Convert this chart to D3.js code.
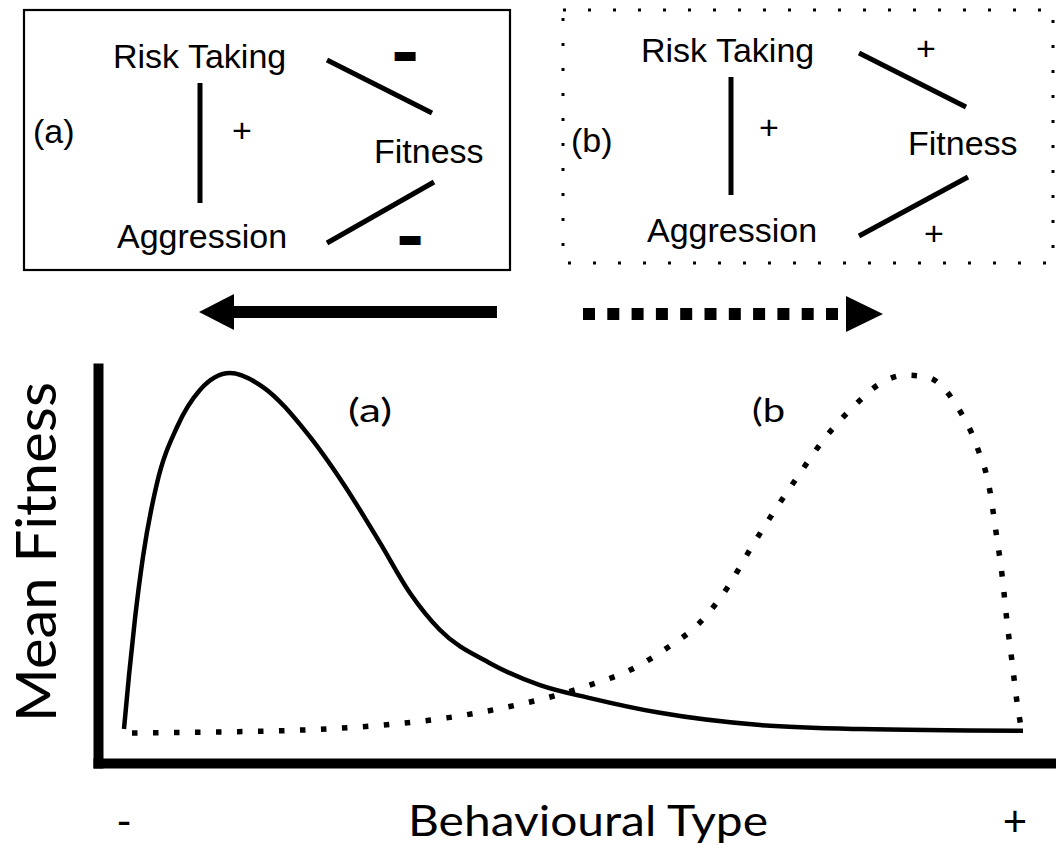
<!DOCTYPE html>
<html>
<head>
<meta charset="utf-8">
<script src="https://cdn.jsdelivr.net/npm/d3@7"></script>
<style>
  html, body { margin: 0; padding: 0; background: #fff; }
  svg { display: block; }
</style>
</head>
<body>
<svg id="chart" width="1056" height="845"></svg>
<script>
// ---------- data ----------
// Behavioural type (0 = "-", 100 = "+") and mean fitness (0..100)
const curveAx = [0, 0.56, 1.22, 2.11, 3.67, 5.90, 8.45, 11.79, 15.46, 20.36, 24.36, 28.48, 31.81, 35.15, 40.71, 46.27, 51.84, 59.62, 70.75, 81.87, 100];
const curveAy = [1.1, 16.1, 31.7, 48.9, 69.4, 85.0, 95.3, 100, 96.1, 83.3, 69.4, 52.8, 38.9, 28.6, 19.4, 13.3, 9.7, 5.6, 2.2, 1.1, 0.6];
const curveBx = [0.89, 11.0, 19.6, 28.8, 35.9, 42.6, 47.4, 51.8, 56.3, 60.4, 64.1, 67.1, 69.6, 72.2, 74.9, 77.8, 81.0, 84.4, 86.9, 89.3, 92.7, 94.9, 96.3, 97.0, 97.7, 98.2, 98.8, 99.3, 99.8];
const curveBy = [0, 0.3, 0.8, 2.2, 4.2, 7.2, 10.0, 13.3, 17.5, 23.6, 30.8, 40.3, 50.8, 61.1, 71.1, 81.4, 90.3, 97.5, 99.4, 98.9, 90.6, 79.4, 67.5, 55.8, 43.3, 31.4, 19.4, 9.2, 1.4];

const curveLabels = ["(a)", "(b"];
const axisTitles = ["Behavioural Type", "Mean Fitness"];
const axisEnds = ["-", "+"];

const nodeNames = ["Risk Taking", "Aggression", "Fitness"];
const panelLabels = ["(a)", "(b)"];
// signs: [RiskTaking–Aggression, RiskTaking–Fitness, Aggression–Fitness]
const signsA = ["+", "–", "–"];
const signsB = ["+", "+", "+"];

// ---------- setup ----------
const svg = d3.select("#chart");
const x = d3.scaleLinear().domain([0, 100]).range([124, 1023]);
const y = d3.scaleLinear().domain([0, 100]).range([733, 373]);

const arial = "'Liberation Sans', Arial, sans-serif";
const calib = "Lato, 'Open Sans', sans-serif";

// ---------- axes ----------
const axisX = d3.scaleLinear().domain([0, 100]).range([93, 1056]);
const axisY = d3.scaleLinear().domain([0, 100]).range([768, 363]);
svg.append("g")
  .attr("transform", "translate(0,763)")
  .call(d3.axisBottom(axisX).tickValues([]).tickSizeOuter(0))
  .call(g => g.select(".domain").attr("stroke", "#000").attr("stroke-width", 10));
svg.append("g")
  .attr("transform", "translate(98,0)")
  .call(d3.axisLeft(axisY).tickValues([]).tickSizeOuter(0))
  .call(g => g.select(".domain").attr("stroke", "#000").attr("stroke-width", 10));

// ---------- curves ----------
const line = d3.line()
  .x(d => x(d[0]))
  .y(d => y(d[1]))
  .curve(d3.curveMonotoneX);

svg.append("path")
  .datum(curveAx.map((v, i) => [v, curveAy[i]]))
  .attr("d", line)
  .attr("fill", "none")
  .attr("stroke", "#000")
  .attr("stroke-width", 4.5);

svg.append("path")
  .datum(curveBx.map((v, i) => [v, curveBy[i]]))
  .attr("d", line)
  .attr("fill", "none")
  .attr("stroke", "#000")
  .attr("stroke-width", 5.5)
  .attr("stroke-dasharray", "5.5 15.5");

// curve labels
svg.append("text").attr("x", 348).attr("y", 422)
  .attr("font-family", calib).attr("font-size", 33)
  .attr("textLength", 44).attr("lengthAdjust", "spacingAndGlyphs").text(curveLabels[0]);
svg.append("text").attr("x", 752).attr("y", 422)
  .attr("font-family", calib).attr("font-size", 33)
  .attr("textLength", 33).attr("lengthAdjust", "spacingAndGlyphs").text(curveLabels[1]);

// axis titles
svg.append("text")
  .attr("x", 588).attr("y", 836)
  .attr("text-anchor", "middle")
  .attr("font-family", calib).attr("font-size", 42)
  .attr("textLength", 360).attr("lengthAdjust", "spacingAndGlyphs")
  .text(axisTitles[0]);
svg.append("text")
  .attr("transform", "translate(56,552) rotate(-90)")
  .attr("text-anchor", "middle")
  .attr("font-family", calib).attr("font-size", 56)
  .attr("textLength", 340).attr("lengthAdjust", "spacingAndGlyphs")
  .text(axisTitles[1]);
svg.append("text").attr("x", 124).attr("y", 836).attr("text-anchor", "middle")
  .attr("font-family", calib).attr("font-size", 42).text(axisEnds[0]);
svg.append("text").attr("x", 1015).attr("y", 836).attr("text-anchor", "middle")
  .attr("font-family", calib).attr("font-size", 42).text(axisEnds[1]);

// ---------- arrows ----------
// solid arrow (towards "-")
svg.append("rect").attr("x", 232).attr("y", 306).attr("width", 265).attr("height", 12).attr("fill", "#000");
svg.append("path").attr("d", "M199,312 L234,294 L234,330 Z").attr("fill", "#000");
// dotted arrow (towards "+")
svg.append("line").attr("x1", 583).attr("x2", 840).attr("y1", 314).attr("y2", 314)
  .attr("stroke", "#000").attr("stroke-width", 12).attr("stroke-dasharray", "12 12.3");
svg.append("path").attr("d", "M846,296 L883,314 L846,332 Z").attr("fill", "#000");

// ---------- diagram panels ----------
function panel(g, opts) {
  g.append("rect")
    .attr("x", opts.box[0]).attr("y", opts.box[1])
    .attr("width", opts.box[2]).attr("height", opts.box[3])
    .attr("fill", "none").attr("stroke", "#000")
    .attr("stroke-width", opts.dotted ? 3 : 2.2)
    .attr("stroke-dasharray", opts.dotted ? "3 22" : null);
  const t = (txt, px, py, size, anchor) => g.append("text")
    .attr("x", px).attr("y", py)
    .attr("font-family", arial).attr("font-size", size)
    .attr("text-anchor", anchor || "start")
    .text(txt);
  t(opts.label, opts.labelPos[0], opts.labelPos[1], 34);
  t(nodeNames[0], opts.risk[0], opts.risk[1], 34);
  t(nodeNames[1], opts.aggr[0], opts.aggr[1], 34);
  t(nodeNames[2], opts.fit[0], opts.fit[1], 34);
  const seg = (a) => g.append("line")
    .attr("x1", a[0]).attr("y1", a[1]).attr("x2", a[2]).attr("y2", a[3])
    .attr("stroke", "#000").attr("stroke-width", 5);
  opts.lines.forEach(seg);
  opts.signs.forEach((s, i) => {
    const p = opts.signPos[i];
    if (s === "+") {
      t(s, p[0], p[1] + 12, 34, "middle");
    } else {
      g.append("text")
        .attr("x", p[0]).attr("y", p[1] + 8.5)
        .attr("text-anchor", "middle")
        .attr("font-family", arial).attr("font-size", 30).attr("font-weight", "bold")
        .attr("stroke", "#000").attr("stroke-width", 6).attr("stroke-linejoin", "miter")
        .text(s);
    }
  });
}

panel(svg.append("g"), {
  box: [24, 10, 486, 260], dotted: false,
  label: panelLabels[0], labelPos: [33, 143],
  risk: [113, 68], aggr: [117, 248], fit: [374, 163],
  lines: [[200, 83, 200, 203], [327, 60, 432, 113], [327, 243, 434, 182]],
  signs: signsA,
  signPos: [[242, 130], [405, 56.5], [410, 240]]
});

panel(svg.append("g"), {
  box: [563, 10, 490, 253], dotted: true,
  label: panelLabels[1], labelPos: [571, 152],
  risk: [641, 62], aggr: [647, 242], fit: [908, 155],
  lines: [[731, 77, 731, 195], [859, 53, 966, 107], [859, 236, 968, 177]],
  signs: signsB,
  signPos: [[769, 127], [926, 48], [934, 233]]
});
</script>
</body>
</html>
